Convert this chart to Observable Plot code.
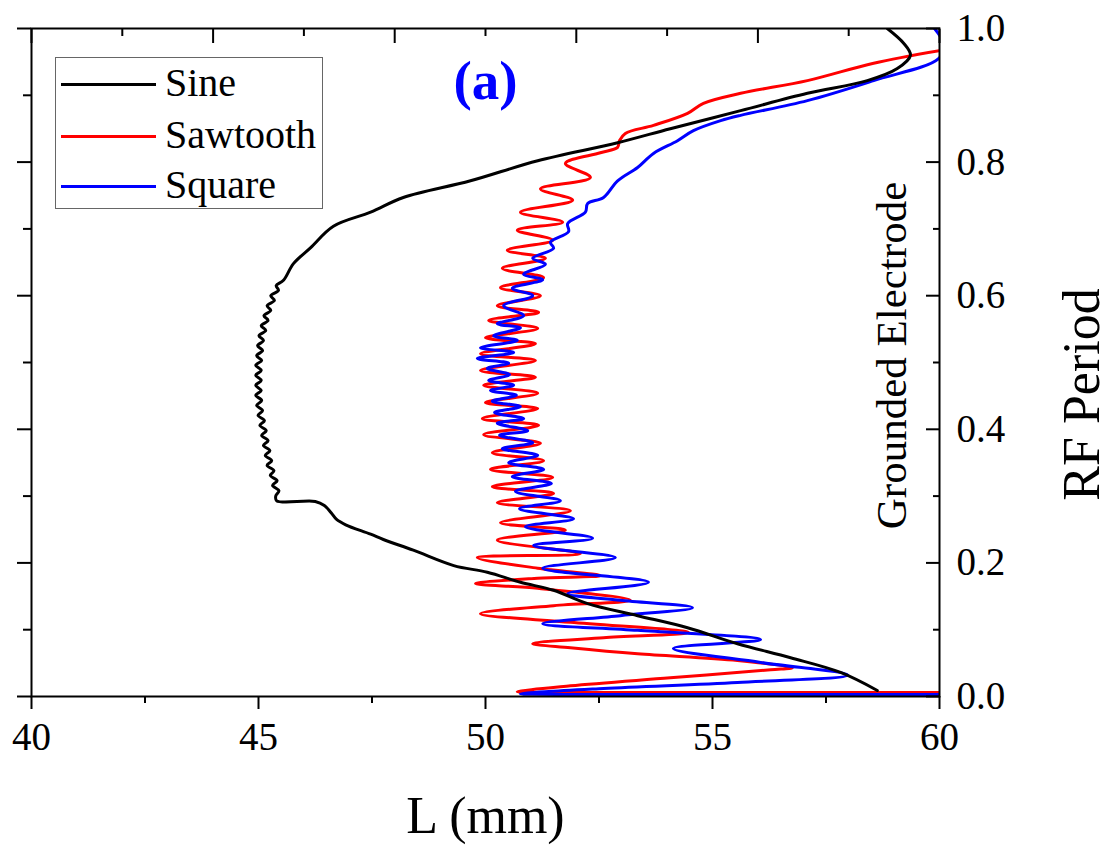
<!DOCTYPE html>
<html><head><meta charset="utf-8">
<script src="https://cdn.jsdelivr.net/npm/d3@7"></script>
<script src="https://cdn.jsdelivr.net/npm/@observablehq/plot@0.6"></script>
<style>
body{margin:0;background:#fff;}
#wrap{position:relative;width:1109px;height:846px;}
#legend{position:absolute;left:55px;top:57px;width:268px;height:152px;border:1px solid #666;box-sizing:border-box;background:#fff;font-family:"Liberation Serif","Times New Roman",serif;font-size:40px;color:#000;}
.item{position:absolute;left:0;width:100%;height:0;}
.sw{position:absolute;left:5px;width:95px;height:3px;top:-1.5px;}
.lb{position:absolute;left:109px;top:0;transform:translateY(-52%);line-height:1;white-space:nowrap;}
</style></head>
<body><div id="wrap"><div id="chart"></div><div id="legend"></div></div>
<script>
const FONT = '"Liberation Serif","Times New Roman",serif';
const seriesNames = ["Sine", "Sawtooth", "Square"];
const seriesColors = ["#000000", "#ff0000", "#0000ff"];
const xLabel = "L (mm)";
const yLabel = "RF Period";
const electrodeLabel = "Grounded Electrode";
const panelLabel = "(a)";
const xTicks = [40, 45, 50, 55, 60];
const xMinorTicks = [42.5, 47.5, 52.5, 57.5];
const topTicks = [40, 44, 48, 52, 56, 60];
const topMinorTicks = [42, 46, 50, 54, 58];
const yTicks = [0, 0.2, 0.4, 0.6, 0.8, 1.0];
const yMinorTicks = [0.1, 0.3, 0.5, 0.7, 0.9];

// Sine: L (mm) and RF period, in path order (bottom to top)
const sineL = [58.63,57.82,56.72,55.55,54.45,53.35,52.25,51.50,50.77,50.04,49.30,48.41,47.75,47.47,46.92,46.72,46.60,46.45,46.25,45.40,45.38,
45.45,45.31,45.41,45.26,45.34,45.19,45.29,45.15,45.25,45.11,45.21,45.07,45.17,45.03,45.13,44.99,45.09,44.96,45.07,44.94,45.06,44.94,45.06,44.94,45.06,44.94,45.07,44.96,45.09,44.98,45.11,45.01,45.16,45.06,45.21,45.12,45.27,45.19,45.35,45.27,45.44,45.39,
45.55,45.77,46.15,46.65,47.47,48.19,49.67,51.15,52.91,54.07,55.62,57.09,58.41,59.07,59.36,59.21,58.85];
const sineP = [0.009,0.036,0.058,0.079,0.103,0.121,0.139,0.159,0.171,0.186,0.196,0.219,0.235,0.243,0.257,0.265,0.275,0.286,0.292,0.293,0.300,
0.308,0.316,0.323,0.331,0.338,0.346,0.353,0.361,0.368,0.376,0.383,0.391,0.398,0.406,0.413,0.421,0.428,0.436,0.443,0.451,0.458,0.466,0.473,0.481,0.488,0.496,0.503,0.510,0.518,0.525,0.533,0.540,0.548,0.555,0.563,0.570,0.578,0.585,0.593,0.600,0.608,0.615,
0.623,0.648,0.672,0.704,0.725,0.747,0.772,0.802,0.829,0.850,0.877,0.903,0.922,0.940,0.960,0.978,1.000];

// Sawtooth
const sawL = [60.00,55.00,52.00,50.70,51.87,54.07,56.28,56.76,55.55,53.35,51.87,51.04,52.60,54.47,51.87,49.89,51.50,53.19,51.15,49.78,51.15,52.53,51.15,49.82,52.09,
50.26,51.76,50.33,51.87,50.26,51.50,50.15,51.48,50.11,51.28,50.15,51.21,49.96,51.17,49.93,51.15,50.00,51.15,49.96,51.10,49.89,51.10,49.89,51.10,50.00,51.15,50.07,51.17,50.26,51.21,50.33,51.28,50.37,51.32,50.48,51.48,50.70,51.70,50.77,51.92,51.21,52.31,51.76,
52.53,52.91,52.95,53.08,53.70,54.45,54.80,55.62,57.09,58.55,60.02];
const sawP = [0.006,0.006,0.006,0.007,0.016,0.028,0.040,0.043,0.054,0.064,0.073,0.079,0.088,0.096,0.111,0.124,0.136,0.144,0.162,0.169,0.177,0.181,0.192,0.208,0.214,
0.234,0.249,0.260,0.278,0.290,0.304,0.314,0.328,0.340,0.353,0.365,0.379,0.392,0.406,0.416,0.431,0.440,0.454,0.466,0.478,0.488,0.503,0.513,0.528,0.537,0.551,0.563,0.575,0.585,0.600,0.612,0.627,0.641,0.656,0.668,0.683,0.698,0.710,0.725,0.743,0.760,0.777,0.798,
0.814,0.822,0.832,0.843,0.855,0.873,0.888,0.903,0.922,0.948,0.967];

// Square
const sqL = [60.00,55.00,52.00,50.77,52.60,55.55,57.98,56.06,54.14,56.06,53.35,51.26,52.97,54.56,52.97,51.81,53.59,51.26,52.86,
51.06,52.36,50.88,51.94,50.75,51.65,50.66,51.45,50.59,51.28,50.51,51.15,50.37,51.04,50.31,50.93,50.26,50.84,50.20,50.77,50.15,50.68,50.11,50.62,50.07,50.53,50.04,50.51,49.82,50.62,49.89,50.70,50.18,50.77,50.26,50.84,50.40,51.04,50.59,51.26,50.84,51.32,51.04,51.50,51.43,51.83,51.81,
52.20,52.25,52.60,52.91,53.35,53.70,54.23,54.58,55.18,55.62,57.09,58.55,59.98,60.10,59.89];
const sqP = [0.003,0.003,0.003,0.004,0.012,0.021,0.032,0.051,0.072,0.085,0.099,0.109,0.121,0.133,0.144,0.154,0.171,0.192,0.208,
0.226,0.237,0.254,0.266,0.281,0.293,0.307,0.319,0.329,0.340,0.350,0.361,0.371,0.380,0.391,0.398,0.409,0.416,0.425,0.434,0.442,0.451,0.458,0.466,0.473,0.482,0.491,0.499,0.506,0.515,0.522,0.533,0.540,0.552,0.558,0.570,0.585,0.600,0.611,0.624,0.632,0.647,0.656,0.671,0.680,0.696,0.708,
0.725,0.738,0.747,0.772,0.792,0.813,0.832,0.847,0.862,0.870,0.892,0.922,0.955,0.975,1.000];

const toRows = (Ls, Ps, name) => Ls.map((L, i) => ({series: name, L, P: Ps[i]}));
const sineRows = toRows(sineL, sineP, seriesNames[0]);
const sawRows = toRows(sawL, sawP, seriesNames[1]);
const sqRows = toRows(sqL, sqP, seriesNames[2]);

const lineOpts = (c) => ({x: "L", y: "P", stroke: c, strokeWidth: 3, curve: "catmull-rom", clip: true});

const chart = Plot.plot({
  width: 1109, height: 846,
  marginLeft: 31, marginRight: 170, marginTop: 28, marginBottom: 150,
  x: {domain: [40, 60]},
  y: {domain: [0, 1]},
  style: {fontFamily: FONT, background: "white", color: "black"},
  marks: [
    Plot.line(sawRows, lineOpts(seriesColors[1])),
    Plot.line(sqRows, lineOpts(seriesColors[2])),
    Plot.line(sineRows, lineOpts(seriesColors[0])),
    Plot.frame({strokeWidth: 2}),
    Plot.axisX(xTicks, {anchor: "bottom", tickSize: 13, tickPadding: 13, fontSize: 39, strokeWidth: 2, label: null}),
    Plot.axisX(xMinorTicks, {anchor: "bottom", tickSize: 7, strokeWidth: 2, fill: "none", label: null}),
    Plot.axisX(topTicks, {anchor: "top", tickSize: 14, dy: 14, strokeWidth: 2, fill: "none", label: null}),
    Plot.axisX(topMinorTicks, {anchor: "top", tickSize: 7, dy: 7, strokeWidth: 2, fill: "none", label: null}),
    Plot.axisY(yTicks, {anchor: "left", tickSize: 14, strokeWidth: 2, fill: "none", label: null}),
    Plot.axisY(yMinorTicks, {anchor: "left", tickSize: 8, strokeWidth: 2, fill: "none", label: null}),
    Plot.axisY(yTicks, {anchor: "right", tickSize: 14, dx: -14, strokeWidth: 2, fill: "none", label: null}),
    Plot.axisY(yMinorTicks, {anchor: "right", tickSize: 7, dx: -7, strokeWidth: 2, fill: "none", label: null}),
    Plot.axisY(yTicks, {anchor: "right", tickSize: 0, tickPadding: 17, fontSize: 39, tickFormat: d => d.toFixed(1), label: null}),
    Plot.text([xLabel], {frameAnchor: "bottom", dy: 136, lineAnchor: "bottom", textAnchor: "middle", fontSize: 52}),
    Plot.text([yLabel], {frameAnchor: "right", rotate: -90, dx: 159, dy: 32, lineAnchor: "bottom", textAnchor: "middle", fontSize: 52}),
    Plot.text([electrodeLabel], {frameAnchor: "right", rotate: -90, dx: -34, dy: -7, lineAnchor: "bottom", textAnchor: "middle", fontSize: 43}),
    Plot.text([panelLabel], {frameAnchor: "top", dy: 70, lineAnchor: "bottom", textAnchor: "middle", fontSize: 55, fontWeight: "bold", fill: "#0000ff"})
  ]
});
document.getElementById("chart").appendChild(chart);

const legend = document.getElementById("legend");
const legendY = [26, 78, 128];
seriesNames.forEach((name, i) => {
  const item = document.createElement("div");
  item.className = "item";
  item.style.top = legendY[i] + "px";
  const sw = document.createElement("div");
  sw.className = "sw";
  sw.style.background = seriesColors[i];
  const lb = document.createElement("div");
  lb.className = "lb";
  lb.textContent = name;
  item.appendChild(sw); item.appendChild(lb);
  legend.appendChild(item);
});
</script>
</body></html>
